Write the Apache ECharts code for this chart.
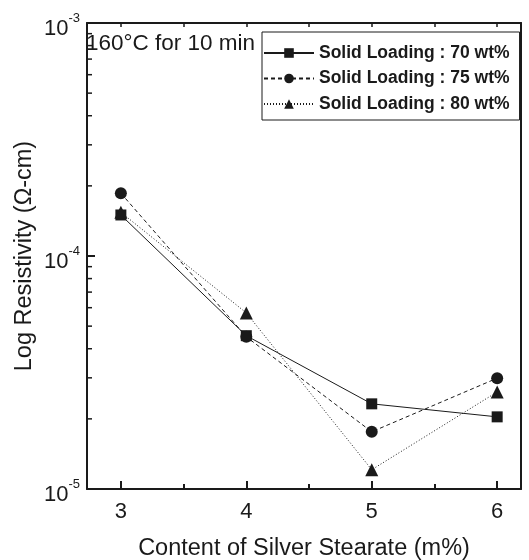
<!DOCTYPE html>
<html>
<head>
<meta charset="utf-8">
<script src="https://cdn.jsdelivr.net/npm/echarts@6/dist/echarts.min.js"></script>
<style>
  html, body { margin: 0; padding: 0; background: #fff; }
  #chart { width: 529px; height: 560px; }
</style>
</head>
<body>
<div id="chart"></div>
<script>
// silver stearate content (m%)
const contents = [3, 4, 5, 6];
// resistivity values (ohm-cm)
const load70 = [1.50e-4, 4.55e-5, 2.32e-5, 2.04e-5];
const load75 = [1.86e-4, 4.50e-5, 1.76e-5, 2.99e-5];
const load80 = [1.54e-4, 5.70e-5, 1.21e-5, 2.61e-5];
const seriesNames = ['Solid Loading : 70 wt%', 'Solid Loading : 75 wt%', 'Solid Loading : 80 wt%'];

const xMajorTicks = [3, 4, 5, 6];
const xMinorTicks = [3.5, 4.5, 5.5];
const xTopTicks = [3, 3.5, 4, 4.5, 5, 5.5, 6];
const X_MIN = 2.73;
const X_MAX = 6.19;

// minor ticks for log axis: 2..9 per decade
const decades = [1e-5, 1e-4];
const minorSteps = [2, 3, 4, 5, 6, 7, 8, 9];
const yMinorTicks = [];
decades.forEach(d => minorSteps.forEach(m => yMinorTicks.push(d * m)));

const FONT = '"Liberation Sans", Arial, Helvetica, sans-serif';
const INK = '#1a1a1a';

const chart = echarts.init(document.getElementById('chart'));

function pair(vals) {
  return contents.map((c, i) => [c, vals[i]]);
}

const lineSeries = [
  { name: seriesNames[0], data: pair(load70), symbol: 'rect', symbolSize: 11, type: 'solid' },
  { name: seriesNames[1], data: pair(load75), symbol: 'circle', symbolSize: 12, type: [4, 3] },
  { name: seriesNames[2], data: pair(load80), symbol: 'triangle', symbolSize: 13, type: [1, 2] }
].map(s => ({
  name: s.name,
  type: 'line',
  data: s.data,
  symbol: s.symbol,
  symbolSize: s.symbolSize,
  itemStyle: { color: INK },
  lineStyle: { color: INK, width: 1, type: s.type },
  emphasis: { disabled: true },
  z: 3
}));

const option = {
  animation: false,
  textStyle: { fontFamily: FONT, color: INK },
  title: {
    text: '160\u00B0C for 10 min',
    left: 86,
    top: 32,
    padding: 0,
    textStyle: { fontFamily: FONT, fontSize: 22.5, fontWeight: 'normal', color: INK }
  },
  legend: {
    data: seriesNames,
    orient: 'vertical',
    left: 262,
    top: 32,
    padding: [12, 10, 7, 1],
    itemWidth: 50,
    itemHeight: 12,
    itemGap: 7.5,
    borderColor: INK,
    borderWidth: 1,
    backgroundColor: '#fff',
    textStyle: { fontFamily: FONT, fontSize: 17.5, fontWeight: 'bold', color: INK }
  },
  grid: { left: 87, right: 8, top: 23, bottom: 71, outerBoundsMode: 'none', containLabel: false },
  xAxis: [
    {
      type: 'value',
      position: 'bottom',
      min: X_MIN,
      max: X_MAX,
      name: 'Content of Silver Stearate (m%)',
      nameLocation: 'middle',
      nameGap: 48,
      nameMoveOverlap: false,
      nameTextStyle: { fontFamily: FONT, fontSize: 23.5, color: INK },
      axisLine: { lineStyle: { color: INK, width: 2 } },
      axisTick: { inside: true, length: 8, customValues: xMajorTicks, lineStyle: { color: INK, width: 2 } },
      axisLabel: { customValues: xMajorTicks, fontFamily: FONT, fontSize: 22, color: INK, margin: 12 },
      splitLine: { show: false }
    },
    {
      type: 'value',
      position: 'bottom',
      min: X_MIN,
      max: X_MAX,
      axisLine: { show: false },
      axisTick: { inside: true, length: 5, customValues: xMinorTicks, lineStyle: { color: INK, width: 2 } },
      axisLabel: { show: false },
      splitLine: { show: false }
    },
    {
      type: 'value',
      position: 'top',
      min: X_MIN,
      max: X_MAX,
      axisLine: { lineStyle: { color: INK, width: 2 } },
      axisTick: { inside: true, length: 4, customValues: xTopTicks, lineStyle: { color: INK, width: 1.5 } },
      axisLabel: { show: false },
      splitLine: { show: false }
    }
  ],
  yAxis: [
    {
      type: 'log',
      logBase: 10,
      min: 1e-5,
      max: 1e-3,
      interval: 1,
      name: 'Log Resistivity (\u03A9-cm)',
      nameLocation: 'middle',
      nameGap: 50,
      nameMoveOverlap: false,
      nameTextStyle: { fontFamily: FONT, fontSize: 23.5, color: INK },
      axisLine: { lineStyle: { color: INK, width: 2 } },
      axisTick: { inside: true, length: 8, lineStyle: { color: INK, width: 2 } },
      axisLabel: {
        margin: 7,
        padding: [6, 0, 0, 0],
        formatter: v => '{b|10}{s|' + Math.round(Math.log10(v)) + '}',
        rich: {
          b: { fontFamily: FONT, fontSize: 22, color: INK, lineHeight: 28, verticalAlign: 'bottom' },
          s: { fontFamily: FONT, fontSize: 13, color: INK, lineHeight: 28, verticalAlign: 'top' }
        }
      },
      splitLine: { show: false }
    },
    {
      type: 'log',
      logBase: 10,
      position: 'right',
      min: 1e-5,
      max: 1e-3,
      axisLine: { lineStyle: { color: INK, width: 2 } },
      axisTick: { show: false },
      axisLabel: { show: false },
      splitLine: { show: false }
    }
  ],
  series: [
    ...lineSeries,
    {
      name: 'yMinor',
      type: 'custom',
      silent: true,
      clip: false,
      data: yMinorTicks.map(v => [X_MIN, v]),
      renderItem: (params, api) => {
        const p = api.coord([api.value(0), api.value(1)]);
        return {
          type: 'line',
          shape: { x1: p[0], y1: p[1], x2: p[0] + 5, y2: p[1] },
          style: { stroke: INK, lineWidth: 1.5 }
        };
      },
      z: 2
    }
  ]
};

chart.setOption(option);
</script>
</body>
</html>
